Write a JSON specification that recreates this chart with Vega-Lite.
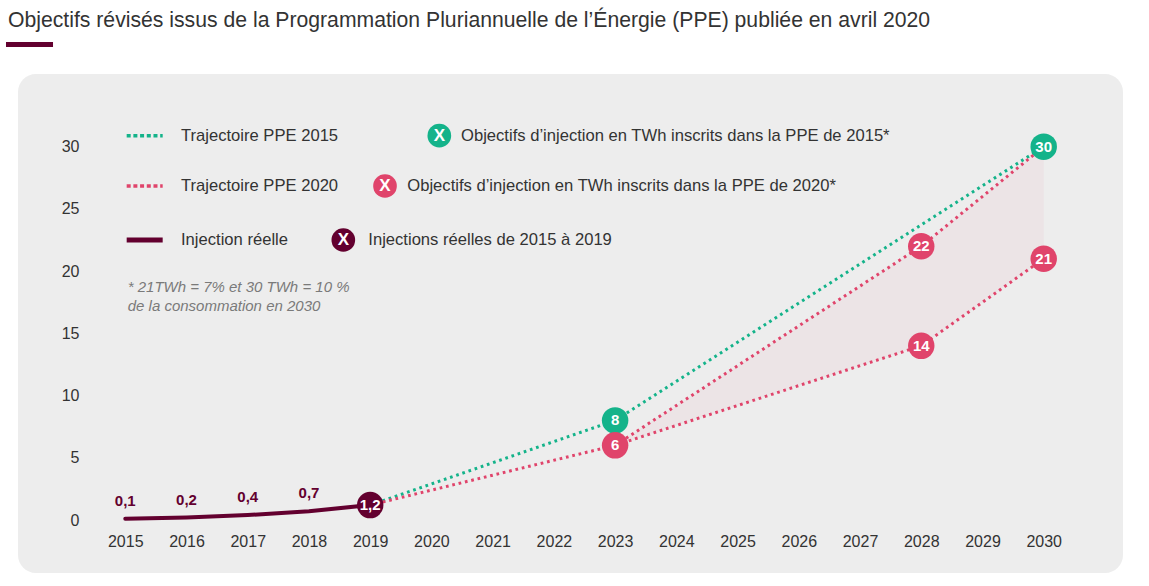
{
  "$schema": "https://vega.github.io/schema/vega-lite/v6.json",
  "width": 1105,
  "height": 499,
  "autosize": {"type": "none"},
  "padding": {"left": 18, "top": 74, "right": 26, "bottom": 13},
  "background": "#ffffff",
  "title": {
    "text": "Objectifs révisés issus de la Programmation Pluriannuelle de l’Énergie (PPE) publiée en avril 2020",
    "anchor": "start",
    "frame": "group",
    "dx": -10,
    "offset": 11,
    "font": "Liberation Sans",
    "fontSize": 21.2,
    "fontWeight": "normal",
    "color": "#333333"
  },
  "config": {
    "view": {"fill": "#ededed", "stroke": null, "cornerRadius": 18},
    "axis": {"domain": false, "ticks": false, "grid": false, "labelFont": "Liberation Sans", "labelColor": "#333333", "title": null},
    "text": {"font": "Liberation Sans"}
  },
  "datasets": {
    "actual": [
      {"year": 2015, "value": 0.1, "label": "0,1"},
      {"year": 2016, "value": 0.2, "label": "0,2"},
      {"year": 2017, "value": 0.4, "label": "0,4"},
      {"year": 2018, "value": 0.7, "label": "0,7"},
      {"year": 2019, "value": 1.2, "label": "1,2"}
    ],
    "traj": [
      {"serie": "PPE 2015", "year": 2019, "value": 1.2},
      {"serie": "PPE 2015", "year": 2023, "value": 8},
      {"serie": "PPE 2015", "year": 2030, "value": 30},
      {"serie": "PPE 2020 bas", "year": 2019, "value": 1.2},
      {"serie": "PPE 2020 bas", "year": 2023, "value": 6},
      {"serie": "PPE 2020 bas", "year": 2028, "value": 14},
      {"serie": "PPE 2020 bas", "year": 2030, "value": 21},
      {"serie": "PPE 2020 haut", "year": 2023, "value": 6},
      {"serie": "PPE 2020 haut", "year": 2028, "value": 22},
      {"serie": "PPE 2020 haut", "year": 2030, "value": 30}
    ],
    "zone": [
      {"year": 2023, "low": 6, "high": 6},
      {"year": 2028, "low": 14, "high": 22},
      {"year": 2030, "low": 21, "high": 30}
    ],
    "markers": [
      {"serie": "PPE 2015", "year": 2023, "value": 8, "label": "8"},
      {"serie": "PPE 2015", "year": 2030, "value": 30, "label": "30"},
      {"serie": "PPE 2020", "year": 2023, "value": 6, "label": "6"},
      {"serie": "PPE 2020", "year": 2028, "value": 22, "label": "22"},
      {"serie": "PPE 2020", "year": 2028, "value": 14, "label": "14"},
      {"serie": "PPE 2020", "year": 2030, "value": 21, "label": "21"},
      {"serie": "Réel", "year": 2019, "value": 1.2, "label": "1,2"}
    ]
  },
  "layer": [
    {
      "data": {"name": "zone"},
      "mark": {"type": "area", "color": "#e0446b", "opacity": 0.055},
      "encoding": {
        "x": {"field": "year", "type": "quantitative", "title": null,
              "scale": {"domain": [2013.248, 2031.295], "nice": false, "zero": false},
              "axis": {"values": [2015,2016,2017,2018,2019,2020,2021,2022,2023,2024,2025,2026,2027,2028,2029,2030], "format": "d", "orient": "bottom", "offset": -40, "labelPadding": 0, "labelFontSize": 16, "labelFlush": false}},
        "y": {"field": "low", "type": "quantitative", "title": null,
              "scale": {"domain": [-4.259, 35.843], "nice": false, "zero": false},
              "axis": {"values": [0,5,10,15,20,25,30], "orient": "left", "offset": -61, "labelPadding": 0, "labelFontSize": 16, "labelFlush": false}},
        "y2": {"field": "high"}
      }
    },
    {
      "data": {"name": "traj"},
      "mark": {"type": "line", "strokeWidth": 3, "strokeDash": [2.7, 3.8], "strokeCap": "butt"},
      "encoding": {
        "x": {"field": "year", "type": "quantitative", "title": null},
        "y": {"field": "value", "type": "quantitative", "title": null},
        "detail": {"field": "serie"},
        "color": {"field": "serie", "type": "nominal", "legend": null,
                  "scale": {"domain": ["PPE 2015", "PPE 2020 bas", "PPE 2020 haut", "PPE 2020", "Réel"], "range": ["#14b38a", "#e0446b", "#e0446b", "#e0446b", "#63002f"]}}
      }
    },
    {
      "data": {"name": "actual"},
      "mark": {"type": "line", "strokeWidth": 4, "strokeCap": "round", "color": "#63002f"},
      "encoding": {
        "x": {"field": "year", "type": "quantitative", "title": null},
        "y": {"field": "value", "type": "quantitative", "title": null}
      }
    },
    {
      "data": {"name": "actual"},
      "transform": [{"filter": "datum.year < 2019"}],
      "mark": {"type": "text", "fontWeight": "bold", "fontSize": 15, "color": "#63002f", "dy": -18, "baseline": "middle"},
      "encoding": {
        "x": {"field": "year", "type": "quantitative", "title": null},
        "y": {"field": "value", "type": "quantitative", "title": null},
        "text": {"field": "label"}
      }
    },
    {
      "data": {"name": "markers"},
      "mark": {"type": "point", "shape": "circle", "filled": true, "opacity": 1, "size": 700},
      "encoding": {
        "x": {"field": "year", "type": "quantitative", "title": null},
        "y": {"field": "value", "type": "quantitative", "title": null},
        "color": {"field": "serie", "type": "nominal", "legend": null}
      }
    },
    {
      "data": {"name": "markers"},
      "mark": {"type": "text", "fontWeight": "bold", "fontSize": 15, "color": "#ffffff", "baseline": "middle", "align": "center"},
      "encoding": {
        "x": {"field": "year", "type": "quantitative", "title": null},
        "y": {"field": "value", "type": "quantitative", "title": null},
        "text": {"field": "label"}
      }
    },
    {
      "data": {"values": [{"k": 1}]},
      "mark": {"type": "rule", "color": "#63002f", "strokeWidth": 5, "strokeCap": "butt"},
      "encoding": {"x": {"datum": 2013.052, "title": null}, "x2": {"datum": 2013.82}, "y": {"datum": 38.214, "title": null}}
    },
    {
      "data": {"values": [{"k": 1}]},
      "mark": {"type": "rule", "color": "#14b38a", "strokeWidth": 3.5, "strokeDash": [4, 2.7], "strokeCap": "butt"},
      "encoding": {"x": {"datum": 2015.023, "title": null}, "x2": {"datum": 2015.611}, "y": {"datum": 30.884, "title": null}}
    },
    {
      "data": {"values": [{"k": 1}]},
      "mark": {"type": "rule", "color": "#e0446b", "strokeWidth": 3.5, "strokeDash": [4, 2.7], "strokeCap": "butt"},
      "encoding": {"x": {"datum": 2015.023, "title": null}, "x2": {"datum": 2015.611}, "y": {"datum": 26.842, "title": null}}
    },
    {
      "data": {"values": [{"k": 1}]},
      "mark": {"type": "rule", "color": "#63002f", "strokeWidth": 5, "strokeCap": "butt"},
      "encoding": {"x": {"datum": 2015.023, "title": null}, "x2": {"datum": 2015.611}, "y": {"datum": 22.502, "title": null}}
    },
    {
      "data": {"values": [{"t": "Trajectoire PPE 2015"}]},
      "mark": {"type": "text", "align": "left", "baseline": "middle", "fontSize": 16.6, "color": "#333333"},
      "encoding": {"x": {"datum": 2015.91, "title": null}, "y": {"datum": 30.884, "title": null}, "text": {"field": "t"}}
    },
    {
      "data": {"values": [{"t": "Trajectoire PPE 2020"}]},
      "mark": {"type": "text", "align": "left", "baseline": "middle", "fontSize": 16.6, "color": "#333333"},
      "encoding": {"x": {"datum": 2015.91, "title": null}, "y": {"datum": 26.842, "title": null}, "text": {"field": "t"}}
    },
    {
      "data": {"values": [{"t": "Injection réelle"}]},
      "mark": {"type": "text", "align": "left", "baseline": "middle", "fontSize": 16.6, "color": "#333333"},
      "encoding": {"x": {"datum": 2015.91, "title": null}, "y": {"datum": 22.502, "title": null}, "text": {"field": "t"}}
    },
    {
      "data": {"values": [{"k": 1}]},
      "mark": {"type": "point", "shape": "circle", "filled": true, "opacity": 1, "size": 560, "color": "#14b38a"},
      "encoding": {"x": {"datum": 2020.129, "title": null}, "y": {"datum": 30.884, "title": null}}
    },
    {
      "data": {"values": [{"k": 1}]},
      "mark": {"type": "point", "shape": "circle", "filled": true, "opacity": 1, "size": 560, "color": "#e0446b"},
      "encoding": {"x": {"datum": 2019.242, "title": null}, "y": {"datum": 26.842, "title": null}}
    },
    {
      "data": {"values": [{"k": 1}]},
      "mark": {"type": "point", "shape": "circle", "filled": true, "opacity": 1, "size": 560, "color": "#63002f"},
      "encoding": {"x": {"datum": 2018.561, "title": null}, "y": {"datum": 22.502, "title": null}}
    },
    {
      "data": {"values": [{"t": "X"}]},
      "mark": {"type": "text", "align": "center", "baseline": "middle", "fontSize": 17, "fontWeight": "bold", "color": "#ffffff"},
      "encoding": {"x": {"datum": 2020.129, "title": null}, "y": {"datum": 30.884, "title": null}, "text": {"field": "t"}}
    },
    {
      "data": {"values": [{"t": "X"}]},
      "mark": {"type": "text", "align": "center", "baseline": "middle", "fontSize": 17, "fontWeight": "bold", "color": "#ffffff"},
      "encoding": {"x": {"datum": 2019.242, "title": null}, "y": {"datum": 26.842, "title": null}, "text": {"field": "t"}}
    },
    {
      "data": {"values": [{"t": "X"}]},
      "mark": {"type": "text", "align": "center", "baseline": "middle", "fontSize": 17, "fontWeight": "bold", "color": "#ffffff"},
      "encoding": {"x": {"datum": 2018.561, "title": null}, "y": {"datum": 22.502, "title": null}, "text": {"field": "t"}}
    },
    {
      "data": {"values": [{"t": "Objectifs d’injection en TWh inscrits dans la PPE de 2015*"}]},
      "mark": {"type": "text", "align": "left", "baseline": "middle", "fontSize": 16.6, "color": "#333333"},
      "encoding": {"x": {"datum": 2020.483, "title": null}, "y": {"datum": 30.884, "title": null}, "text": {"field": "t"}}
    },
    {
      "data": {"values": [{"t": "Objectifs d’injection en TWh inscrits dans la PPE de 2020*"}]},
      "mark": {"type": "text", "align": "left", "baseline": "middle", "fontSize": 16.6, "color": "#333333"},
      "encoding": {"x": {"datum": 2019.606, "title": null}, "y": {"datum": 26.842, "title": null}, "text": {"field": "t"}}
    },
    {
      "data": {"values": [{"t": "Injections réelles de 2015 à 2019"}]},
      "mark": {"type": "text", "align": "left", "baseline": "middle", "fontSize": 16.6, "color": "#333333"},
      "encoding": {"x": {"datum": 2018.969, "title": null}, "y": {"datum": 22.502, "title": null}, "text": {"field": "t"}}
    },
    {
      "data": {"values": [{"t": ["* 21TWh = 7% et 30 TWh = 10 %", "de la consommation en 2030"]}]},
      "mark": {"type": "text", "align": "left", "baseline": "alphabetic", "fontSize": 15, "fontStyle": "italic", "color": "#7a7a7a", "lineHeight": 18.5},
      "encoding": {"x": {"datum": 2015.04, "title": null}, "y": {"datum": 18.323, "title": null}, "text": {"field": "t"}}
    }
  ]
}
